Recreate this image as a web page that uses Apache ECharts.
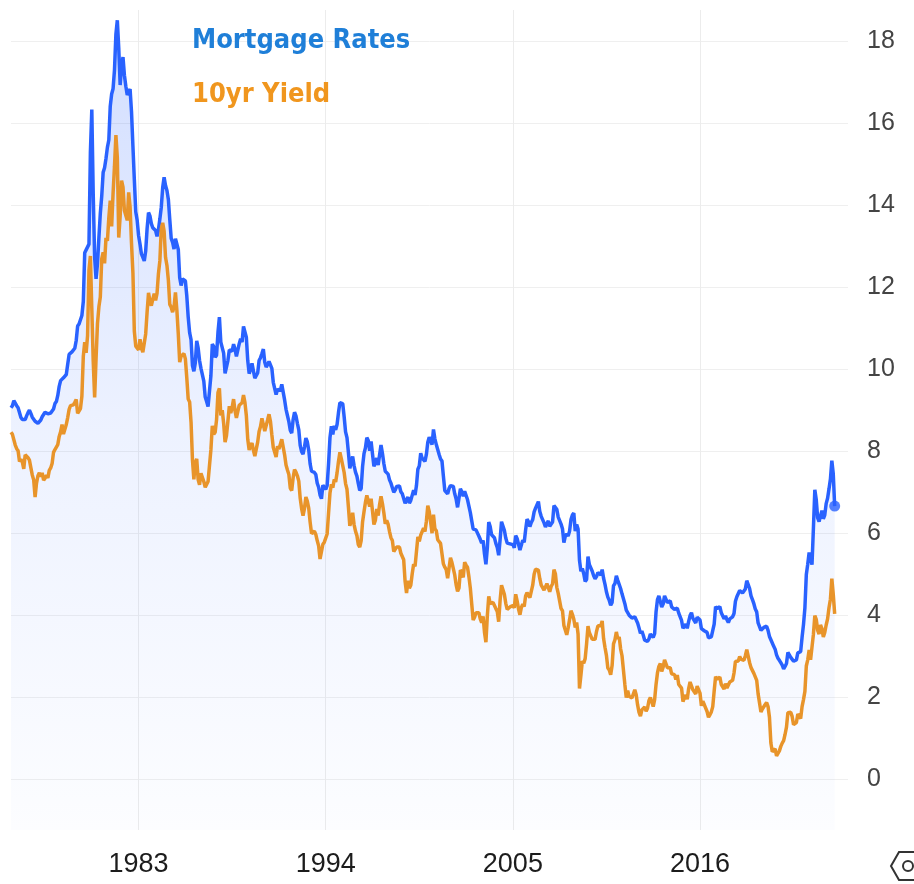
<!DOCTYPE html>
<html>
<head>
<meta charset="utf-8">
<title>Mortgage Rates vs 10yr Yield</title>
<script src="https://cdn.jsdelivr.net/npm/echarts@6/dist/echarts.min.js"></script>
<style>
  html, body { margin: 0; padding: 0; background: #fff; }
  #main { width: 914px; height: 884px; }
</style>
</head>
<body>
<div id="main"></div>
<script>
// monthly values, first month is Jul 1975
var startYear = 1975
var startMonth = 7

// 30yr fixed mortgage rate, %
var mortgage = [
  9.05, 9.10, 9.22, 9.20, 9.10, 9.05,
  9.02, 8.81, 8.76, 8.73, 8.76, 8.85, 8.93, 8.99, 8.91, 8.82, 8.77, 8.72,
  8.72, 8.67, 8.69, 8.75, 8.83, 8.86, 8.94, 8.94, 8.90, 8.92, 8.92, 8.96,
  9.02, 9.15, 9.20, 9.35, 9.57, 9.71, 9.74, 9.78, 9.76, 9.86, 10.11, 10.35,
  10.39, 10.41, 10.43, 10.50, 10.69, 11.04, 11.09, 11.09, 11.30, 11.64, 12.83, 12.90,
  12.88, 13.04, 15.28, 16.32, 14.26, 12.71, 12.19, 12.56, 13.20, 13.79, 14.21, 14.79,
  14.90, 15.13, 15.40, 15.58, 16.40, 16.70, 16.83, 17.29, 18.16, 18.50, 17.83, 16.92,
  17.40, 17.60, 17.16, 16.89, 16.68, 16.70, 16.82, 16.27, 15.43, 14.61, 13.83, 13.62,
  13.25, 13.04, 12.80, 12.78, 12.63, 12.87, 13.42, 13.81, 13.73, 13.54, 13.44, 13.42,
  13.37, 13.23, 13.39, 13.65, 13.94, 14.42, 14.67, 14.47, 14.35, 14.13, 13.64, 13.18,
  13.08, 12.92, 13.17, 13.20, 12.91, 12.22, 12.03, 12.19, 12.19, 12.14, 11.78, 11.26,
  10.88, 10.71, 10.08, 9.94, 10.14, 10.68, 10.51, 10.20, 10.01, 9.98, 9.70, 9.31,
  9.20, 9.08, 9.04, 9.83, 10.60, 10.54, 10.28, 10.33, 10.89, 11.26, 10.65, 10.64,
  10.38, 9.89, 9.93, 10.20, 10.46, 10.46, 10.43, 10.60, 10.48, 10.30, 10.27, 10.61,
  10.73, 10.65, 11.03, 11.05, 10.77, 10.20, 9.88, 9.99, 10.13, 9.95, 9.77, 9.74,
  9.90, 10.20, 10.27, 10.37, 10.48, 10.16, 10.04, 10.10, 10.18, 10.18, 10.01, 9.67,
  9.64, 9.37, 9.50, 9.49, 9.47, 9.62, 9.58, 9.24, 9.01, 8.86, 8.71, 8.50,
  8.43, 8.76, 8.94, 8.85, 8.67, 8.51, 8.13, 7.98, 7.92, 8.09, 8.31, 8.22,
  8.02, 7.68, 7.50, 7.47, 7.47, 7.42, 7.21, 7.11, 6.92, 6.83, 7.16, 7.17,
  7.06, 7.15, 7.68, 8.32, 8.60, 8.40, 8.61, 8.51, 8.64, 8.93, 9.17, 9.20,
  9.15, 8.83, 8.46, 8.32, 7.96, 7.57, 7.61, 7.86, 7.64, 7.48, 7.38, 7.20,
  7.03, 7.08, 7.62, 7.93, 8.07, 8.32, 8.25, 8.00, 8.23, 7.92, 7.62, 7.60,
  7.82, 7.65, 7.90, 8.14, 7.94, 7.69, 7.50, 7.48, 7.43, 7.29, 7.21, 7.10,
  6.99, 7.04, 7.13, 7.14, 7.14, 7.00, 6.95, 6.92, 6.72, 6.71, 6.87, 6.72,
  6.79, 6.81, 7.04, 6.92, 7.15, 7.55, 7.63, 7.94, 7.82, 7.85, 7.74, 7.91,
  8.21, 8.33, 8.24, 8.15, 8.52, 8.29, 8.15, 8.03, 7.91, 7.80, 7.75, 7.38,
  7.03, 7.05, 6.95, 7.08, 7.15, 7.16, 7.13, 6.95, 6.82, 6.62, 6.66, 7.07,
  7.00, 6.89, 7.01, 6.99, 6.81, 6.65, 6.49, 6.29, 6.09, 6.11, 6.07, 6.05,
  5.92, 5.84, 5.75, 5.81, 5.48, 5.23, 5.63, 6.26, 6.15, 5.95, 5.93, 5.88,
  5.74, 5.64, 5.45, 5.83, 6.27, 6.29, 6.06, 5.87, 5.75, 5.72, 5.73, 5.75,
  5.71, 5.63, 5.93, 5.86, 5.72, 5.58, 5.70, 5.82, 5.77, 6.07, 6.33, 6.27,
  6.15, 6.25, 6.32, 6.51, 6.60, 6.68, 6.76, 6.52, 6.40, 6.36, 6.24, 6.14,
  6.22, 6.29, 6.16, 6.18, 6.26, 6.66, 6.70, 6.57, 6.38, 6.38, 6.21, 6.10,
  5.76, 5.92, 5.97, 5.92, 6.04, 6.32, 6.43, 6.48, 6.04, 6.20, 6.09, 5.33,
  5.06, 5.13, 5.00, 4.81, 4.86, 5.42, 5.22, 5.19, 5.06, 4.95, 4.88, 4.93,
  5.03, 4.99, 4.97, 5.10, 4.89, 4.74, 4.56, 4.43, 4.35, 4.23, 4.30, 4.71,
  4.76, 4.95, 4.84, 4.84, 4.64, 4.51, 4.55, 4.27, 4.11, 4.07, 3.99, 3.96,
  3.92, 3.89, 3.95, 3.91, 3.80, 3.68, 3.55, 3.60, 3.50, 3.38, 3.35, 3.35,
  3.41, 3.53, 3.57, 3.45, 3.54, 4.07, 4.37, 4.46, 4.49, 4.19, 4.26, 4.46,
  4.43, 4.30, 4.34, 4.34, 4.19, 4.16, 4.13, 4.12, 4.16, 4.04, 4.00, 3.86,
  3.67, 3.71, 3.77, 3.67, 3.84, 3.98, 4.05, 3.91, 3.89, 3.80, 3.94, 3.96,
  3.87, 3.66, 3.69, 3.61, 3.60, 3.57, 3.44, 3.44, 3.46, 3.47, 3.77, 4.20,
  4.15, 4.17, 4.20, 4.05, 4.01, 3.90, 3.97, 3.88, 3.81, 3.90, 3.92, 3.95,
  4.03, 4.33, 4.44, 4.47, 4.59, 4.57, 4.53, 4.55, 4.63, 4.83, 4.87, 4.64,
  4.46, 4.37, 4.27, 4.14, 4.07, 3.80, 3.77, 3.62, 3.61, 3.69, 3.70, 3.72,
  3.62, 3.47, 3.45, 3.31, 3.23, 3.16, 3.02, 2.94, 2.89, 2.83, 2.77, 2.68,
  2.74, 2.81, 3.08, 3.06, 2.96, 2.98, 2.87, 2.84, 2.90, 3.07, 3.07, 3.10,
  3.45, 3.76, 4.17, 4.98, 5.23, 5.52, 5.41, 5.22, 6.11, 7.05, 6.81, 6.36,
  6.27, 6.26, 6.54, 6.34, 6.43, 6.71, 6.84, 7.07, 7.31, 7.76, 7.44, 6.65
]

// 10 year treasury yield, %
var yield10 = [
  8.45, 8.40, 8.43, 8.14, 8.05, 8.00,
  7.74, 7.79, 7.73, 7.56, 7.90, 7.86, 7.83, 7.77, 7.59, 7.41, 7.29, 6.87,
  7.21, 7.39, 7.46, 7.37, 7.46, 7.28, 7.33, 7.40, 7.34, 7.52, 7.58, 7.69,
  7.96, 8.03, 8.04, 8.15, 8.35, 8.46, 8.64, 8.41, 8.42, 8.64, 8.81, 9.01,
  9.10, 9.10, 9.12, 9.18, 9.25, 8.91, 8.95, 9.03, 9.33, 10.30, 10.65, 10.39,
  10.80, 12.41, 12.75, 11.47, 10.18, 9.30, 10.25, 11.10, 11.51, 11.75, 12.68, 12.84,
  12.57, 13.19, 13.12, 13.68, 14.10, 13.47, 14.28, 14.94, 15.70, 15.15, 13.20, 13.72,
  14.59, 14.43, 13.86, 13.87, 13.62, 14.30, 13.95, 13.06, 12.34, 10.91, 10.55, 10.54,
  10.46, 10.72, 10.51, 10.40, 10.38, 10.85, 11.38, 11.85, 11.65, 11.54, 11.69, 11.83,
  11.67, 11.84, 12.32, 12.63, 13.41, 13.56, 13.36, 12.72, 12.52, 12.16, 11.57, 11.50,
  11.38, 11.51, 11.86, 11.43, 10.85, 10.16, 10.31, 10.33, 10.37, 10.24, 9.78, 9.26,
  9.19, 8.70, 7.78, 7.30, 7.71, 7.80, 7.30, 7.17, 7.45, 7.43, 7.25, 7.11,
  7.08, 7.25, 7.25, 8.02, 8.61, 8.40, 8.45, 8.76, 9.42, 9.52, 8.86, 8.99,
  8.67, 8.21, 8.37, 8.72, 9.09, 8.92, 9.06, 9.26, 8.98, 8.80, 8.96, 9.11,
  9.09, 9.17, 9.36, 9.18, 8.86, 8.28, 8.02, 8.11, 8.19, 8.01, 7.87, 7.84,
  8.21, 8.47, 8.59, 8.79, 8.76, 8.48, 8.47, 8.75, 8.89, 8.72, 8.39, 8.08,
  8.09, 7.85, 8.11, 8.04, 8.07, 8.28, 8.27, 7.90, 7.65, 7.53, 7.42, 7.09,
  7.03, 7.34, 7.54, 7.48, 7.39, 7.26, 6.84, 6.59, 6.42, 6.59, 6.87, 6.77,
  6.60, 6.26, 5.98, 5.97, 6.04, 5.96, 5.81, 5.68, 5.36, 5.33, 5.72, 5.77,
  5.75, 5.97, 6.48, 6.97, 7.18, 7.10, 7.30, 7.24, 7.46, 7.74, 7.96, 7.81,
  7.78, 7.47, 7.20, 7.06, 6.63, 6.17, 6.28, 6.49, 6.20, 6.04, 5.93, 5.71,
  5.65, 5.81, 6.27, 6.51, 6.74, 6.91, 6.87, 6.64, 6.83, 6.53, 6.20, 6.30,
  6.58, 6.42, 6.69, 6.89, 6.71, 6.49, 6.22, 6.30, 6.21, 6.03, 5.88, 5.81,
  5.54, 5.57, 5.65, 5.64, 5.65, 5.50, 5.46, 5.34, 4.81, 4.53, 4.83, 4.65,
  4.72, 5.00, 5.23, 5.18, 5.54, 5.90, 5.79, 5.94, 5.92, 6.11, 6.03, 6.28,
  6.66, 6.52, 6.26, 5.99, 6.44, 6.10, 6.05, 5.83, 5.80, 5.74, 5.72, 5.24,
  5.16, 5.10, 4.89, 5.14, 5.39, 5.28, 5.24, 4.97, 4.73, 4.57, 4.65, 5.09,
  5.04, 4.91, 5.28, 5.21, 5.16, 4.93, 4.65, 4.26, 3.87, 3.94, 4.05, 4.03,
  4.05, 3.90, 3.81, 3.96, 3.57, 3.33, 3.98, 4.45, 4.27, 4.29, 4.30, 4.27,
  4.15, 4.08, 3.83, 4.35, 4.72, 4.73, 4.50, 4.28, 4.13, 4.10, 4.19, 4.23,
  4.22, 4.17, 4.50, 4.34, 4.14, 4.00, 4.18, 4.26, 4.20, 4.46, 4.54, 4.47,
  4.42, 4.57, 4.72, 4.99, 5.11, 5.11, 5.09, 4.88, 4.72, 4.73, 4.60, 4.56,
  4.76, 4.72, 4.56, 4.69, 4.75, 5.10, 5.00, 4.67, 4.52, 4.53, 4.15, 4.10,
  3.74, 3.74, 3.51, 3.68, 3.88, 4.10, 4.01, 3.89, 3.69, 3.81, 3.53, 2.20,
  2.52, 2.87, 2.82, 2.93, 3.29, 3.72, 3.56, 3.59, 3.40, 3.39, 3.40, 3.59,
  3.73, 3.69, 3.73, 3.85, 3.42, 3.20, 3.01, 2.70, 2.65, 2.54, 2.76, 3.29,
  3.39, 3.58, 3.41, 3.46, 3.17, 3.00, 3.00, 2.30, 1.98, 2.15, 2.01, 1.98,
  1.97, 1.97, 2.17, 2.05, 1.80, 1.62, 1.53, 1.68, 1.72, 1.75, 1.65, 1.72,
  1.91, 1.98, 1.96, 1.76, 1.93, 2.30, 2.58, 2.74, 2.81, 2.62, 2.72, 2.90,
  2.86, 2.71, 2.72, 2.71, 2.56, 2.60, 2.54, 2.42, 2.53, 2.30, 2.33, 2.21,
  1.88, 1.98, 2.04, 1.94, 2.20, 2.36, 2.32, 2.17, 2.17, 2.07, 2.26, 2.24,
  2.09, 1.78, 1.89, 1.81, 1.81, 1.64, 1.50, 1.56, 1.63, 1.76, 2.14, 2.49,
  2.43, 2.42, 2.48, 2.30, 2.30, 2.19, 2.32, 2.21, 2.20, 2.36, 2.35, 2.40,
  2.58, 2.86, 2.84, 2.87, 2.98, 2.91, 2.89, 2.89, 3.00, 3.15, 3.12, 2.83,
  2.71, 2.68, 2.57, 2.53, 2.40, 2.07, 2.06, 1.63, 1.70, 1.71, 1.81, 1.86,
  1.76, 1.50, 0.87, 0.66, 0.67, 0.73, 0.56, 0.62, 0.68, 0.79, 0.87, 0.93,
  1.08, 1.26, 1.61, 1.64, 1.62, 1.52, 1.32, 1.28, 1.37, 1.58, 1.56, 1.47,
  1.76, 1.93, 2.13, 2.75, 2.90, 3.14, 2.90, 2.90, 3.52, 3.98, 3.89, 3.62,
  3.53, 3.75, 3.66, 3.46, 3.57, 3.75, 3.90, 4.17, 4.38, 4.88, 4.50, 4.02
]

var yearLabels = [1983, 1994, 2005, 2016]
var rateTicks = [0, 2, 4, 6, 8, 10, 12, 14, 16, 18]
var seriesNames = ['Mortgage Rates', '10yr Yield']

var blue = '#2962ff'
var orange = '#e8942a'

function toPoints(arr) {
  var out = []
  for (var i = 0; i < arr.length; i++) {
    var t = startYear + (startMonth - 1 + i) / 12
    out.push([t, arr[i]])
  }
  return out
}

var mortgagePts = toPoints(mortgage)
var yieldPts = toPoints(yield10)
var lastPt = mortgagePts[mortgagePts.length - 1]

var chart = echarts.init(document.getElementById('main'), null, { renderer: 'canvas' })

var option = {
  animation: false,
  backgroundColor: '#ffffff',
  grid: { left: 11, right: 66, top: 10, bottom: 54 },
  legend: {
    orient: 'vertical',
    left: 182,
    top: 21,
    icon: 'none',
    itemWidth: 0,
    itemHeight: 14,
    itemGap: 24,
    selectedMode: false,
    textStyle: {
      fontFamily: '"DejaVu Sans Condensed", "DejaVu Sans", sans-serif',
      fontWeight: 'bold',
      fontSize: 27,
      lineHeight: 30
    },
    data: [
      { name: seriesNames[0], textStyle: { color: '#1f7fd8' } },
      { name: seriesNames[1], textStyle: { color: '#f0961e' } }
    ]
  },
  xAxis: {
    type: 'value',
    min: 1975.5,
    max: 2024.7,
    axisLine: { show: false },
    axisTick: { show: false, customValues: yearLabels },
    axisLabel: {
      customValues: yearLabels,
      margin: 21,
      color: '#1c1c1c',
      fontSize: 27,
      fontFamily: '"Liberation Sans", Arial, sans-serif',
      formatter: function (v) { return String(v) }
    },
    splitLine: { show: true, lineStyle: { color: '#ececec', width: 1 } }
  },
  yAxis: {
    type: 'value',
    position: 'right',
    min: -1.25,
    max: 18.75,
    axisLine: { show: false },
    axisTick: { show: false, customValues: rateTicks },
    axisLabel: {
      customValues: rateTicks,
      margin: 19,
      color: '#444',
      fontSize: 25,
      fontFamily: '"Liberation Sans", Arial, sans-serif'
    },
    splitLine: { show: true, lineStyle: { color: '#efefef', width: 1 } }
  },
  series: [
    {
      name: seriesNames[0],
      type: 'line',
      data: mortgagePts,
      showSymbol: false,
      symbol: 'none',
      lineStyle: { color: blue, width: 3.5 },
      itemStyle: { color: blue },
      areaStyle: {
        origin: 'start',
        color: new echarts.graphic.LinearGradient(0, 0, 0, 1, [
          { offset: 0, color: 'rgba(41, 98, 255, 0.30)' },
          { offset: 0.5, color: 'rgba(41, 98, 255, 0.12)' },
          { offset: 1, color: 'rgba(41, 98, 255, 0.02)' }
        ])
      },
      z: 2
    },
    {
      name: seriesNames[1],
      type: 'line',
      data: yieldPts,
      showSymbol: false,
      symbol: 'none',
      lineStyle: { color: orange, width: 3.5 },
      itemStyle: { color: orange },
      z: 3
    },
    {
      // dot on the latest mortgage reading
      type: 'scatter',
      data: [lastPt],
      symbol: 'circle',
      symbolSize: 11,
      itemStyle: { color: blue },
      silent: true,
      z: 4
    }
  ],
  graphic: [
    {
      type: 'polyline',
      shape: { points: [[914, 852], [899, 852], [891, 866], [899, 880], [914, 880]] },
      style: { stroke: '#333', lineWidth: 2, fill: null },
      silent: true
    },
    {
      type: 'circle',
      shape: { cx: 908, cy: 866, r: 5 },
      style: { stroke: '#333', lineWidth: 2, fill: null },
      silent: true
    }
  ]
}

chart.setOption(option)
</script>
</body>
</html>
